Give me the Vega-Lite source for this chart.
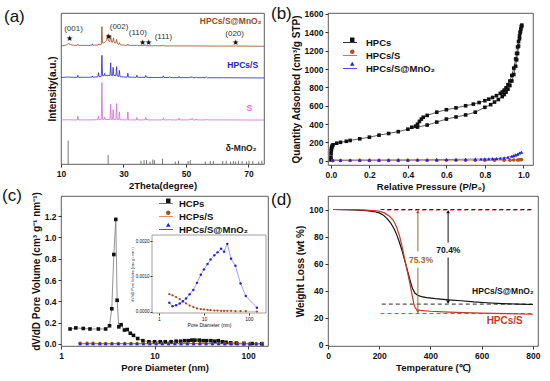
{
"$schema": "https://vega.github.io/schema/vega-lite/v6.json",
"background": "white",
"padding": {"left": 1, "top": 4, "right": 0, "bottom": 0},
"config": {
  "font": "Liberation Sans",
  "view": {"stroke": "#333333", "strokeWidth": 0.8},
  "axis": {"labelFont": "Liberation Sans", "labelFontWeight": "bold", "labelFontSize": 8.5, "labelColor": "#111111", "titleFont": "Liberation Sans", "titleFontWeight": "bold", "titleFontSize": 9.5, "titleColor": "#111111", "grid": false, "domain": false, "tickColor": "#333333", "tickSize": 3, "labelPadding": 2, "titlePadding": 3, "labelOverlap": false, "labelFlush": false},
  "axisY": {"titleFontSize": 10},
  "legend": {"labelFont": "Liberation Sans", "labelFontWeight": "bold", "labelFontSize": 9.5, "labelColor": "#111111", "padding": 0, "rowPadding": 1},
  "title": {"font": "Liberation Sans", "fontSize": 17, "fontWeight": "normal", "color": "#111111", "anchor": "start", "frame": "group", "offset": -13}
},
"datasets": {
  "xrd": [
    {"s":"HPCs/S@MnO₂","t":10,"v":78.2},{"s":"HPCs/S@MnO₂","t":11,"v":78.4},{"s":"HPCs/S@MnO₂","t":11.8,"v":79},{"s":"HPCs/S@MnO₂","t":12.4,"v":79.8},{"s":"HPCs/S@MnO₂","t":13,"v":79.2},{"s":"HPCs/S@MnO₂","t":14,"v":78.6},{"s":"HPCs/S@MnO₂","t":15.2,"v":78.6},{"s":"HPCs/S@MnO₂","t":15.4,"v":79.3},{"s":"HPCs/S@MnO₂","t":15.6,"v":78.6},{"s":"HPCs/S@MnO₂","t":17,"v":78.5},{"s":"HPCs/S@MnO₂","t":19.8,"v":78.6},{"s":"HPCs/S@MnO₂","t":20,"v":79.6},{"s":"HPCs/S@MnO₂","t":20.2,"v":78.7},{"s":"HPCs/S@MnO₂","t":21.5,"v":78.7},{"s":"HPCs/S@MnO₂","t":21.9,"v":78.8},{"s":"HPCs/S@MnO₂","t":22.1,"v":79.6},{"s":"HPCs/S@MnO₂","t":22.3,"v":78.9},{"s":"HPCs/S@MnO₂","t":22.9,"v":79.2},{"s":"HPCs/S@MnO₂","t":23.1,"v":91},{"s":"HPCs/S@MnO₂","t":23.3,"v":80.2},{"s":"HPCs/S@MnO₂","t":23.7,"v":80.2},{"s":"HPCs/S@MnO₂","t":24,"v":80.6},{"s":"HPCs/S@MnO₂","t":24.3,"v":81.2},{"s":"HPCs/S@MnO₂","t":24.6,"v":82},{"s":"HPCs/S@MnO₂","t":24.9,"v":85.5},{"s":"HPCs/S@MnO₂","t":25.2,"v":81.5},{"s":"HPCs/S@MnO₂","t":25.6,"v":81},{"s":"HPCs/S@MnO₂","t":25.9,"v":85},{"s":"HPCs/S@MnO₂","t":26.2,"v":80.6},{"s":"HPCs/S@MnO₂","t":26.5,"v":80.6},{"s":"HPCs/S@MnO₂","t":26.8,"v":83.5},{"s":"HPCs/S@MnO₂","t":27.1,"v":80.2},{"s":"HPCs/S@MnO₂","t":27.5,"v":80.1},{"s":"HPCs/S@MnO₂","t":27.8,"v":82.5},{"s":"HPCs/S@MnO₂","t":28.1,"v":79.6},{"s":"HPCs/S@MnO₂","t":28.5,"v":79.2},{"s":"HPCs/S@MnO₂","t":28.7,"v":80.4},{"s":"HPCs/S@MnO₂","t":29,"v":78.9},{"s":"HPCs/S@MnO₂","t":31.2,"v":78.6},{"s":"HPCs/S@MnO₂","t":31.4,"v":79.5},{"s":"HPCs/S@MnO₂","t":31.6,"v":78.6},{"s":"HPCs/S@MnO₂","t":34.2,"v":78.5},{"s":"HPCs/S@MnO₂","t":34.4,"v":78.9},{"s":"HPCs/S@MnO₂","t":34.6,"v":78.4},{"s":"HPCs/S@MnO₂","t":36.8,"v":78.4},{"s":"HPCs/S@MnO₂","t":37,"v":79},{"s":"HPCs/S@MnO₂","t":37.2,"v":78.3},{"s":"HPCs/S@MnO₂","t":42.6,"v":78.3},{"s":"HPCs/S@MnO₂","t":42.8,"v":78.9},{"s":"HPCs/S@MnO₂","t":43,"v":78.2},{"s":"HPCs/S@MnO₂","t":50,"v":78.2},{"s":"HPCs/S@MnO₂","t":60,"v":78.1},{"s":"HPCs/S@MnO₂","t":65.8,"v":78.1},{"s":"HPCs/S@MnO₂","t":66,"v":78.5},{"s":"HPCs/S@MnO₂","t":66.2,"v":78.1},{"s":"HPCs/S@MnO₂","t":75,"v":78},
    {"s":"HPCs/S","t":10,"v":57.3},{"s":"HPCs/S","t":12,"v":57.6},{"s":"HPCs/S","t":14,"v":57.4},{"s":"HPCs/S","t":15.2,"v":57.4},{"s":"HPCs/S","t":15.4,"v":58.8},{"s":"HPCs/S","t":15.6,"v":57.4},{"s":"HPCs/S","t":17.5,"v":57.4},{"s":"HPCs/S","t":19.8,"v":57.5},{"s":"HPCs/S","t":20,"v":58.4},{"s":"HPCs/S","t":20.2,"v":57.5},{"s":"HPCs/S","t":21.8,"v":57.7},{"s":"HPCs/S","t":22,"v":60.5},{"s":"HPCs/S","t":22.2,"v":57.8},{"s":"HPCs/S","t":22.9,"v":58},{"s":"HPCs/S","t":23.1,"v":72},{"s":"HPCs/S","t":23.3,"v":58.5},{"s":"HPCs/S","t":23.8,"v":58.5},{"s":"HPCs/S","t":24,"v":60},{"s":"HPCs/S","t":24.2,"v":58.5},{"s":"HPCs/S","t":25.7,"v":58.6},{"s":"HPCs/S","t":25.9,"v":67},{"s":"HPCs/S","t":26.1,"v":58.8},{"s":"HPCs/S","t":26.5,"v":58.6},{"s":"HPCs/S","t":26.7,"v":64},{"s":"HPCs/S","t":26.9,"v":58.6},{"s":"HPCs/S","t":27.6,"v":58.5},{"s":"HPCs/S","t":27.8,"v":64.5},{"s":"HPCs/S","t":28,"v":58.3},{"s":"HPCs/S","t":28.5,"v":58},{"s":"HPCs/S","t":28.7,"v":62},{"s":"HPCs/S","t":28.9,"v":57.8},{"s":"HPCs/S","t":31.2,"v":57.5},{"s":"HPCs/S","t":31.4,"v":60.2},{"s":"HPCs/S","t":31.6,"v":57.5},{"s":"HPCs/S","t":33,"v":57.5},{"s":"HPCs/S","t":34.1,"v":57.4},{"s":"HPCs/S","t":34.3,"v":58.8},{"s":"HPCs/S","t":34.5,"v":57.4},{"s":"HPCs/S","t":36.9,"v":57.4},{"s":"HPCs/S","t":37.1,"v":58.6},{"s":"HPCs/S","t":37.3,"v":57.4},{"s":"HPCs/S","t":37.5,"v":58},{"s":"HPCs/S","t":37.7,"v":57.3},{"s":"HPCs/S","t":42.6,"v":57.3},{"s":"HPCs/S","t":42.8,"v":58.4},{"s":"HPCs/S","t":43,"v":57.3},{"s":"HPCs/S","t":44.6,"v":57.3},{"s":"HPCs/S","t":44.8,"v":57.8},{"s":"HPCs/S","t":45,"v":57.2},{"s":"HPCs/S","t":47.6,"v":57.2},{"s":"HPCs/S","t":47.8,"v":58},{"s":"HPCs/S","t":48,"v":57.2},{"s":"HPCs/S","t":51.2,"v":57.2},{"s":"HPCs/S","t":51.4,"v":57.8},{"s":"HPCs/S","t":51.6,"v":57.2},{"s":"HPCs/S","t":52,"v":57.8},{"s":"HPCs/S","t":52.2,"v":57.2},{"s":"HPCs/S","t":53.1,"v":57.2},{"s":"HPCs/S","t":53.3,"v":57.7},{"s":"HPCs/S","t":53.5,"v":57.2},{"s":"HPCs/S","t":56.4,"v":57.2},{"s":"HPCs/S","t":56.6,"v":57.5},{"s":"HPCs/S","t":56.8,"v":57.1},{"s":"HPCs/S","t":62,"v":57.1},{"s":"HPCs/S","t":75,"v":57},
    {"s":"S","t":10,"v":29.2},{"s":"S","t":12,"v":29.3},{"s":"S","t":14,"v":29.2},{"s":"S","t":15.2,"v":29.2},{"s":"S","t":15.4,"v":31.8},{"s":"S","t":15.6,"v":29.2},{"s":"S","t":18,"v":29.2},{"s":"S","t":21.8,"v":29.3},{"s":"S","t":22,"v":31.8},{"s":"S","t":22.2,"v":29.3},{"s":"S","t":22.9,"v":29.5},{"s":"S","t":23.1,"v":54},{"s":"S","t":23.3,"v":29.6},{"s":"S","t":23.8,"v":29.5},{"s":"S","t":24,"v":31},{"s":"S","t":24.2,"v":29.5},{"s":"S","t":25.7,"v":29.5},{"s":"S","t":25.9,"v":39.5},{"s":"S","t":26.1,"v":29.5},{"s":"S","t":26.5,"v":29.5},{"s":"S","t":26.7,"v":36},{"s":"S","t":26.9,"v":29.5},{"s":"S","t":27.6,"v":29.5},{"s":"S","t":27.8,"v":40},{"s":"S","t":28,"v":29.4},{"s":"S","t":28.5,"v":29.4},{"s":"S","t":28.7,"v":34.5},{"s":"S","t":28.9,"v":29.3},{"s":"S","t":31.2,"v":29.2},{"s":"S","t":31.4,"v":34.5},{"s":"S","t":31.6,"v":29.2},{"s":"S","t":33,"v":29.2},{"s":"S","t":34.1,"v":29.2},{"s":"S","t":34.3,"v":30.8},{"s":"S","t":34.5,"v":29.2},{"s":"S","t":36.9,"v":29.2},{"s":"S","t":37.1,"v":30.8},{"s":"S","t":37.3,"v":29.2},{"s":"S","t":37.5,"v":30},{"s":"S","t":37.7,"v":29.2},{"s":"S","t":42.6,"v":29.2},{"s":"S","t":42.8,"v":30.6},{"s":"S","t":43,"v":29.2},{"s":"S","t":44.6,"v":29.2},{"s":"S","t":44.8,"v":29.8},{"s":"S","t":45,"v":29.2},{"s":"S","t":47.6,"v":29.2},{"s":"S","t":47.8,"v":30.4},{"s":"S","t":48,"v":29.2},{"s":"S","t":51.2,"v":29.2},{"s":"S","t":51.4,"v":30},{"s":"S","t":51.6,"v":29.2},{"s":"S","t":52,"v":30.2},{"s":"S","t":52.2,"v":29.2},{"s":"S","t":53.1,"v":29.2},{"s":"S","t":53.3,"v":29.9},{"s":"S","t":53.5,"v":29.2},{"s":"S","t":56.4,"v":29.2},{"s":"S","t":56.6,"v":29.7},{"s":"S","t":56.8,"v":29.2},{"s":"S","t":62,"v":29.2},{"s":"S","t":75,"v":29.1}
  ],
  "sticks": [
    {"t":12.3,"h":15.5},{"t":25.1,"h":6},{"t":35.6,"h":2.2},{"t":36.6,"h":2.6},{"t":37.4,"h":2.6},{"t":38.5,"h":1.6},{"t":39.4,"h":3},{"t":39.9,"h":2.5},{"t":42.5,"h":3.5},{"t":46.6,"h":1.6},{"t":47.6,"h":2.2},{"t":50.7,"h":2},{"t":51.4,"h":2.6},{"t":56.2,"h":1.6},{"t":57.8,"h":2},{"t":58.8,"h":2},{"t":61.8,"h":2},{"t":62.9,"h":2.2},{"t":64.3,"h":1.6},{"t":65.2,"h":2},{"t":65.9,"h":1.6},{"t":66.8,"h":2.2},{"t":68,"h":2},{"t":69.4,"h":1.6},{"t":70.2,"h":2.2},{"t":71.4,"h":2},{"t":73.3,"h":1.6},{"t":74.3,"h":2.2}
  ],
  "hkl": [
    {"t":14,"v":89.5,"label":"(001)"},{"t":28.6,"v":90.6,"label":"(002)"},{"t":34.6,"v":86.8,"label":"(110)"},{"t":42.8,"v":84.2,"label":"(111)"},{"t":65.6,"v":86,"label":"(020)"}
  ],
  "stars": [
    {"t":12.7,"v":82.6},{"t":25.2,"v":84},{"t":36.2,"v":80.3},{"t":38.1,"v":80.3},{"t":65.9,"v":80.2}
  ],
  "xrdlab": [
    {"s":"HPCs/S@MnO₂","t":74.2,"v":94.5},{"s":"HPCs/S","t":73.1,"v":65.3},{"s":"S","t":71.2,"v":36.8},{"s":"δ-MnO₂","t":72.6,"v":10.7}
  ],
  "iso": [
    {"s":"HPCs","o":1,"p":0.0002,"q":10},{"s":"HPCs","o":2,"p":0.0005,"q":40},{"s":"HPCs","o":3,"p":0.001,"q":80},{"s":"HPCs","o":4,"p":0.002,"q":112},{"s":"HPCs","o":5,"p":0.003,"q":132},{"s":"HPCs","o":6,"p":0.004,"q":146},{"s":"HPCs","o":7,"p":0.006,"q":157},{"s":"HPCs","o":8,"p":0.008,"q":166},{"s":"HPCs","o":9,"p":0.011,"q":175},{"s":"HPCs","o":10,"p":0.03,"q":192},{"s":"HPCs","o":11,"p":0.05,"q":202},{"s":"HPCs","o":12,"p":0.08,"q":213},{"s":"HPCs","o":13,"p":0.1,"q":222},{"s":"HPCs","o":14,"p":0.15,"q":240},{"s":"HPCs","o":15,"p":0.2,"q":258},{"s":"HPCs","o":16,"p":0.25,"q":280},{"s":"HPCs","o":17,"p":0.3,"q":298},{"s":"HPCs","o":18,"p":0.35,"q":318},{"s":"HPCs","o":19,"p":0.4,"q":345},{"s":"HPCs","o":20,"p":0.45,"q":368},{"s":"HPCs","o":21,"p":0.5,"q":390},{"s":"HPCs","o":22,"p":0.55,"q":422},{"s":"HPCs","o":23,"p":0.6,"q":455},{"s":"HPCs","o":24,"p":0.65,"q":478},{"s":"HPCs","o":25,"p":0.7,"q":500},{"s":"HPCs","o":26,"p":0.75,"q":530},{"s":"HPCs","o":27,"p":0.8,"q":583},{"s":"HPCs","o":28,"p":0.83,"q":612},{"s":"HPCs","o":29,"p":0.85,"q":640},{"s":"HPCs","o":30,"p":0.87,"q":668},{"s":"HPCs","o":31,"p":0.89,"q":700},{"s":"HPCs","o":32,"p":0.9,"q":722},{"s":"HPCs","o":33,"p":0.91,"q":748},{"s":"HPCs","o":34,"p":0.92,"q":780},{"s":"HPCs","o":35,"p":0.93,"q":820},{"s":"HPCs","o":36,"p":0.94,"q":870},{"s":"HPCs","o":37,"p":0.95,"q":940},{"s":"HPCs","o":38,"p":0.96,"q":1030},{"s":"HPCs","o":39,"p":0.965,"q":1100},{"s":"HPCs","o":40,"p":0.97,"q":1170},{"s":"HPCs","o":41,"p":0.975,"q":1250},{"s":"HPCs","o":42,"p":0.98,"q":1330},{"s":"HPCs","o":43,"p":0.985,"q":1410},{"s":"HPCs","o":44,"p":0.99,"q":1465},
    {"s":"HPCs","o":45,"p":0.992,"q":1478},{"s":"HPCs","o":46,"p":0.99,"q":1460},{"s":"HPCs","o":47,"p":0.987,"q":1435},{"s":"HPCs","o":48,"p":0.983,"q":1395},{"s":"HPCs","o":49,"p":0.98,"q":1360},{"s":"HPCs","o":50,"p":0.975,"q":1300},{"s":"HPCs","o":51,"p":0.97,"q":1240},{"s":"HPCs","o":52,"p":0.965,"q":1170},{"s":"HPCs","o":53,"p":0.96,"q":1110},{"s":"HPCs","o":54,"p":0.95,"q":1010},{"s":"HPCs","o":55,"p":0.94,"q":930},{"s":"HPCs","o":56,"p":0.93,"q":870},{"s":"HPCs","o":57,"p":0.92,"q":830},{"s":"HPCs","o":58,"p":0.91,"q":795},{"s":"HPCs","o":59,"p":0.9,"q":770},{"s":"HPCs","o":60,"p":0.89,"q":750},{"s":"HPCs","o":61,"p":0.88,"q":735},{"s":"HPCs","o":62,"p":0.86,"q":710},{"s":"HPCs","o":63,"p":0.84,"q":690},{"s":"HPCs","o":64,"p":0.82,"q":672},{"s":"HPCs","o":65,"p":0.8,"q":655},{"s":"HPCs","o":66,"p":0.77,"q":635},{"s":"HPCs","o":67,"p":0.74,"q":618},{"s":"HPCs","o":68,"p":0.7,"q":600},{"s":"HPCs","o":69,"p":0.65,"q":577},{"s":"HPCs","o":70,"p":0.6,"q":557},{"s":"HPCs","o":71,"p":0.55,"q":530},{"s":"HPCs","o":72,"p":0.5,"q":495},{"s":"HPCs","o":73,"p":0.48,"q":475},{"s":"HPCs","o":74,"p":0.47,"q":455},{"s":"HPCs","o":75,"p":0.46,"q":430},{"s":"HPCs","o":76,"p":0.45,"q":400},{"s":"HPCs","o":77,"p":0.44,"q":378},{"s":"HPCs","o":78,"p":0.42,"q":366},
    {"s":"HPCs/S","o":1,"p":0.01,"q":3},{"s":"HPCs/S","o":2,"p":0.05,"q":4},{"s":"HPCs/S","o":3,"p":0.1,"q":4},{"s":"HPCs/S","o":4,"p":0.15,"q":5},{"s":"HPCs/S","o":5,"p":0.2,"q":5},{"s":"HPCs/S","o":6,"p":0.25,"q":5},{"s":"HPCs/S","o":7,"p":0.3,"q":5},{"s":"HPCs/S","o":8,"p":0.35,"q":5},{"s":"HPCs/S","o":9,"p":0.4,"q":5},{"s":"HPCs/S","o":10,"p":0.45,"q":6},{"s":"HPCs/S","o":11,"p":0.5,"q":6},{"s":"HPCs/S","o":12,"p":0.55,"q":6},{"s":"HPCs/S","o":13,"p":0.6,"q":6},{"s":"HPCs/S","o":14,"p":0.65,"q":6},{"s":"HPCs/S","o":15,"p":0.7,"q":6},{"s":"HPCs/S","o":16,"p":0.75,"q":7},{"s":"HPCs/S","o":17,"p":0.8,"q":7},{"s":"HPCs/S","o":18,"p":0.85,"q":7},{"s":"HPCs/S","o":19,"p":0.9,"q":8},{"s":"HPCs/S","o":20,"p":0.93,"q":8},{"s":"HPCs/S","o":21,"p":0.95,"q":9},{"s":"HPCs/S","o":22,"p":0.97,"q":10},{"s":"HPCs/S","o":23,"p":0.98,"q":11},{"s":"HPCs/S","o":24,"p":0.99,"q":13},
    {"s":"HPCs/S@MnO₂","o":1,"p":0.01,"q":10},{"s":"HPCs/S@MnO₂","o":2,"p":0.05,"q":8},{"s":"HPCs/S@MnO₂","o":3,"p":0.1,"q":9},{"s":"HPCs/S@MnO₂","o":4,"p":0.15,"q":10},{"s":"HPCs/S@MnO₂","o":5,"p":0.2,"q":9},{"s":"HPCs/S@MnO₂","o":6,"p":0.25,"q":10},{"s":"HPCs/S@MnO₂","o":7,"p":0.3,"q":10},{"s":"HPCs/S@MnO₂","o":8,"p":0.35,"q":11},{"s":"HPCs/S@MnO₂","o":9,"p":0.4,"q":11},{"s":"HPCs/S@MnO₂","o":10,"p":0.45,"q":12},{"s":"HPCs/S@MnO₂","o":11,"p":0.5,"q":12},{"s":"HPCs/S@MnO₂","o":12,"p":0.55,"q":13},{"s":"HPCs/S@MnO₂","o":13,"p":0.6,"q":15},{"s":"HPCs/S@MnO₂","o":14,"p":0.65,"q":16},{"s":"HPCs/S@MnO₂","o":15,"p":0.7,"q":18},{"s":"HPCs/S@MnO₂","o":16,"p":0.75,"q":19},{"s":"HPCs/S@MnO₂","o":17,"p":0.78,"q":20},{"s":"HPCs/S@MnO₂","o":18,"p":0.8,"q":22},{"s":"HPCs/S@MnO₂","o":19,"p":0.82,"q":22},{"s":"HPCs/S@MnO₂","o":20,"p":0.84,"q":24},{"s":"HPCs/S@MnO₂","o":21,"p":0.86,"q":26},{"s":"HPCs/S@MnO₂","o":22,"p":0.88,"q":28},{"s":"HPCs/S@MnO₂","o":23,"p":0.9,"q":32},{"s":"HPCs/S@MnO₂","o":24,"p":0.92,"q":40},{"s":"HPCs/S@MnO₂","o":25,"p":0.94,"q":50},{"s":"HPCs/S@MnO₂","o":26,"p":0.95,"q":57},{"s":"HPCs/S@MnO₂","o":27,"p":0.96,"q":65},{"s":"HPCs/S@MnO₂","o":28,"p":0.97,"q":74},{"s":"HPCs/S@MnO₂","o":29,"p":0.98,"q":85},{"s":"HPCs/S@MnO₂","o":30,"p":0.99,"q":95}
  ],
  "pore": [
    {"s":"HCPs","d":1.25,"v":0.14},{"s":"HCPs","d":1.44,"v":0.15},{"s":"HCPs","d":1.73,"v":0.145},{"s":"HCPs","d":2.04,"v":0.14},{"s":"HCPs","d":2.51,"v":0.14},{"s":"HCPs","d":3.0,"v":0.14},{"s":"HCPs","d":3.3,"v":0.17},{"s":"HCPs","d":3.49,"v":0.33},{"s":"HCPs","d":3.67,"v":0.84},{"s":"HCPs","d":3.85,"v":1.17},{"s":"HCPs","d":3.98,"v":0.41},{"s":"HCPs","d":4.15,"v":0.16},{"s":"HCPs","d":4.39,"v":0.18},{"s":"HCPs","d":4.77,"v":0.13},{"s":"HCPs","d":5.1,"v":0.135},{"s":"HCPs","d":5.5,"v":0.1},{"s":"HCPs","d":5.95,"v":0.08},{"s":"HCPs","d":6.6,"v":0.05},{"s":"HCPs","d":7.5,"v":0.03},{"s":"HCPs","d":8.7,"v":0.02},{"s":"HCPs","d":10,"v":0.02},{"s":"HCPs","d":11.5,"v":0.02},{"s":"HCPs","d":13,"v":0.02},{"s":"HCPs","d":15,"v":0.02},{"s":"HCPs","d":17,"v":0.025},{"s":"HCPs","d":19,"v":0.025},{"s":"HCPs","d":21,"v":0.03},{"s":"HCPs","d":23,"v":0.03},{"s":"HCPs","d":25,"v":0.035},{"s":"HCPs","d":27,"v":0.035},{"s":"HCPs","d":30,"v":0.035},{"s":"HCPs","d":33,"v":0.03},{"s":"HCPs","d":36,"v":0.03},{"s":"HCPs","d":40,"v":0.03},{"s":"HCPs","d":44,"v":0.025},{"s":"HCPs","d":48,"v":0.03},{"s":"HCPs","d":53,"v":0.02},{"s":"HCPs","d":58,"v":0.015},{"s":"HCPs","d":65,"v":0.01},{"s":"HCPs","d":75,"v":0.008},{"s":"HCPs","d":90,"v":0.005},{"s":"HCPs","d":110,"v":0.003},{"s":"HCPs","d":140,"v":0.002},
    {"s":"HCPs/S","d":1.6,"v":0.005},{"s":"HCPs/S","d":1.9,"v":0.005},{"s":"HCPs/S","d":2.2,"v":0.005},{"s":"HCPs/S","d":2.6,"v":0.004},{"s":"HCPs/S","d":3.0,"v":0.004},{"s":"HCPs/S","d":3.5,"v":0.004},{"s":"HCPs/S","d":4.1,"v":0.004},{"s":"HCPs/S","d":4.8,"v":0.003},{"s":"HCPs/S","d":5.6,"v":0.003},{"s":"HCPs/S","d":6.5,"v":0.003},{"s":"HCPs/S","d":7.6,"v":0.003},{"s":"HCPs/S","d":8.9,"v":0.003},{"s":"HCPs/S","d":10.4,"v":0.003},{"s":"HCPs/S","d":12.1,"v":0.003},{"s":"HCPs/S","d":14.1,"v":0.003},{"s":"HCPs/S","d":16.5,"v":0.003},{"s":"HCPs/S","d":19.2,"v":0.003},{"s":"HCPs/S","d":22.4,"v":0.003},{"s":"HCPs/S","d":26.1,"v":0.003},{"s":"HCPs/S","d":30.5,"v":0.003},{"s":"HCPs/S","d":35.5,"v":0.003},{"s":"HCPs/S","d":41.5,"v":0.003},{"s":"HCPs/S","d":48.4,"v":0.003},{"s":"HCPs/S","d":56.4,"v":0.002},{"s":"HCPs/S","d":65.8,"v":0.002},{"s":"HCPs/S","d":76.8,"v":0.002},{"s":"HCPs/S","d":89.5,"v":0.002},{"s":"HCPs/S","d":104,"v":0.002},{"s":"HCPs/S","d":122,"v":0.002},{"s":"HCPs/S","d":142,"v":0.002},
    {"s":"HPCs/S@MnO₂","d":1.6,"v":0.001},{"s":"HPCs/S@MnO₂","d":1.9,"v":0.001},{"s":"HPCs/S@MnO₂","d":2.2,"v":0.001},{"s":"HPCs/S@MnO₂","d":2.6,"v":0.001},{"s":"HPCs/S@MnO₂","d":3.0,"v":0.001},{"s":"HPCs/S@MnO₂","d":3.5,"v":0.001},{"s":"HPCs/S@MnO₂","d":4.1,"v":0.001},{"s":"HPCs/S@MnO₂","d":4.8,"v":0.001},{"s":"HPCs/S@MnO₂","d":5.6,"v":0.001},{"s":"HPCs/S@MnO₂","d":6.5,"v":0.001},{"s":"HPCs/S@MnO₂","d":7.6,"v":0.001},{"s":"HPCs/S@MnO₂","d":8.9,"v":0.001},{"s":"HPCs/S@MnO₂","d":10.4,"v":0.001},{"s":"HPCs/S@MnO₂","d":12.1,"v":0.001},{"s":"HPCs/S@MnO₂","d":14.1,"v":0.002},{"s":"HPCs/S@MnO₂","d":16.5,"v":0.002},{"s":"HPCs/S@MnO₂","d":19.2,"v":0.002},{"s":"HPCs/S@MnO₂","d":22.4,"v":0.002},{"s":"HPCs/S@MnO₂","d":26.1,"v":0.002},{"s":"HPCs/S@MnO₂","d":30.5,"v":0.002},{"s":"HPCs/S@MnO₂","d":35.5,"v":0.002},{"s":"HPCs/S@MnO₂","d":41.5,"v":0.002},{"s":"HPCs/S@MnO₂","d":48.4,"v":0.001},{"s":"HPCs/S@MnO₂","d":56.4,"v":0.001},{"s":"HPCs/S@MnO₂","d":65.8,"v":0.001},{"s":"HPCs/S@MnO₂","d":76.8,"v":0.001},{"s":"HPCs/S@MnO₂","d":89.5,"v":0.0005},{"s":"HPCs/S@MnO₂","d":104,"v":0.0005},{"s":"HPCs/S@MnO₂","d":122,"v":0.0005},{"s":"HPCs/S@MnO₂","d":142,"v":0.0005}
  ],
  "inset": [
    {"s":"b","d":1.7,"v":0.00026},{"s":"b","d":2.0,"v":0.00016},{"s":"b","d":2.4,"v":0.00019},{"s":"b","d":2.9,"v":0.00024},{"s":"b","d":3.4,"v":0.0003},{"s":"b","d":4.0,"v":0.00038},{"s":"b","d":4.8,"v":0.0005},{"s":"b","d":5.8,"v":0.00062},{"s":"b","d":7.0,"v":0.00082},{"s":"b","d":8.5,"v":0.00105},{"s":"b","d":10,"v":0.0012},{"s":"b","d":12,"v":0.00135},{"s":"b","d":14,"v":0.00148},{"s":"b","d":17,"v":0.0016},{"s":"b","d":20,"v":0.00168},{"s":"b","d":24,"v":0.00178},{"s":"b","d":28,"v":0.0017},{"s":"b","d":33,"v":0.00192},{"s":"b","d":40,"v":0.0015},{"s":"b","d":50,"v":0.0013},{"s":"b","d":65,"v":0.0008},{"s":"b","d":85,"v":0.00045},{"s":"b","d":150,"v":0.00012},
    {"s":"r","d":1.7,"v":0.0005},{"s":"r","d":2.0,"v":0.00047},{"s":"r","d":2.4,"v":0.00042},{"s":"r","d":2.9,"v":0.00036},{"s":"r","d":3.4,"v":0.0003},{"s":"r","d":4.0,"v":0.00024},{"s":"r","d":4.8,"v":0.00018},{"s":"r","d":5.8,"v":0.00014},{"s":"r","d":7.0,"v":0.0001},{"s":"r","d":8.5,"v":0.00008},{"s":"r","d":10,"v":0.00007},{"s":"r","d":12,"v":0.00006},{"s":"r","d":14,"v":0.00005},{"s":"r","d":17,"v":0.00004},{"s":"r","d":20,"v":0.00004},{"s":"r","d":24,"v":0.00003},{"s":"r","d":28,"v":0.00003},{"s":"r","d":33,"v":0.00003},{"s":"r","d":40,"v":0.00003},{"s":"r","d":50,"v":0.00002},{"s":"r","d":65,"v":0.00002},{"s":"r","d":85,"v":0.00002},{"s":"r","d":150,"v":0.00001}
  ],
  "tga": [
    {"c":"k","t":20,"w":100},{"c":"k","t":100,"w":99.7},{"c":"k","t":150,"w":99.2},{"c":"k","t":180,"w":98.5},{"c":"k","t":200,"w":97.5},{"c":"k","t":215,"w":96},{"c":"k","t":230,"w":93.5},{"c":"k","t":245,"w":90},{"c":"k","t":260,"w":85},{"c":"k","t":270,"w":80.5},{"c":"k","t":280,"w":75},{"c":"k","t":290,"w":69},{"c":"k","t":300,"w":62},{"c":"k","t":310,"w":55},{"c":"k","t":320,"w":48},{"c":"k","t":330,"w":41.5},{"c":"k","t":340,"w":38},{"c":"k","t":350,"w":36.5},{"c":"k","t":365,"w":35.5},{"c":"k","t":385,"w":34.8},{"c":"k","t":420,"w":34},{"c":"k","t":470,"w":33.2},{"c":"k","t":520,"w":32.5},{"c":"k","t":570,"w":31.6},{"c":"k","t":620,"w":31},{"c":"k","t":680,"w":30.4},{"c":"k","t":740,"w":30},{"c":"k","t":800,"w":29.7},
    {"c":"r","t":20,"w":100},{"c":"r","t":100,"w":99.9},{"c":"r","t":150,"w":99.6},{"c":"r","t":200,"w":98.8},{"c":"r","t":220,"w":97.5},{"c":"r","t":240,"w":95},{"c":"r","t":255,"w":92},{"c":"r","t":268,"w":87},{"c":"r","t":280,"w":80},{"c":"r","t":290,"w":72},{"c":"r","t":300,"w":63},{"c":"r","t":310,"w":54},{"c":"r","t":320,"w":45},{"c":"r","t":328,"w":37},{"c":"r","t":335,"w":30.5},{"c":"r","t":341,"w":27},{"c":"r","t":348,"w":25.8},{"c":"r","t":360,"w":25.3},{"c":"r","t":400,"w":24.7},{"c":"r","t":450,"w":24.2},{"c":"r","t":500,"w":23.9},{"c":"r","t":600,"w":23.3},{"c":"r","t":700,"w":22.9},{"c":"r","t":800,"w":22.5}
  ],
  "dash": [
    {"c":"r","x1":230,"x2":800,"y":99.6},{"c":"k","x1":205,"x2":800,"y":100},{"c":"k","x1":210,"x2":800,"y":30},{"c":"r","x1":205,"x2":800,"y":23}
  ],
  "arrows": [
    {"c":"br","t":351,"y1":23.5,"y2":57},{"c":"br","t":351,"y1":69,"y2":98},{"c":"k","t":469,"y1":31,"y2":64.5},{"c":"k","t":469,"y1":75.5,"y2":98}
  ],
  "heads": [
    {"c":"br","t":351,"w":98.5,"dir":"up"},{"c":"br","t":351,"w":24.5,"dir":"down"},{"c":"k","t":469,"w":98.5,"dir":"up"},{"c":"k","t":469,"w":31.5,"dir":"down"}
  ],
  "dtext": [
    {"c":"br","t":363,"w":63,"label":"75.3%"},{"c":"k","t":470,"w":70,"label":"70.4%"},{"c":"k","t":683,"w":40,"label":"HPCs/S@MnO₂"}
  ],
  "dtext2": [
    {"c":"r","t":690,"w":17.5,"label":"HPCs/S"}
  ],
  "insetframe": [{"a": 1}]
},
"columns": 2,
"spacing": {"row": -6, "column": 1},
"concat": [
  {
    "width": 203, "height": 151,
    "title": {"text": "(a)", "dx": -57},
    "layer": [
      {"data": {"name": "xrd"}, "mark": {"type": "line", "strokeWidth": 0.8},
       "encoding": {
         "x": {"field": "t", "type": "quantitative", "scale": {"domain": [10, 75], "nice": false}, "axis": {"values": [10,20,30,40,50,60,70], "title": "2Theta(degree)", "labelOverlap": false}},
         "y": {"field": "v", "type": "quantitative", "scale": {"domain": [0, 100], "nice": false}, "axis": {"labels": false, "ticks": false, "title": "Intensity(a.u.)", "titlePadding": 4}},
         "color": {"field": "s", "type": "nominal", "scale": {"domain": ["HPCs/S@MnO₂","HPCs/S","S","δ-MnO₂"], "range": ["#9C4A20","#2424CC","#D46AD8","#222222"]}, "legend": null}
       }},
      {"data": {"name": "sticks"}, "mark": {"type": "rule", "strokeWidth": 0.8, "color": "#555555"},
       "encoding": {"x": {"field": "t", "type": "quantitative"}, "y": {"field": "h", "type": "quantitative"}, "y2": {"datum": 0}}},
      {"data": {"name": "hkl"}, "mark": {"type": "text", "fontSize": 8, "color": "#333333"},
       "encoding": {"x": {"field": "t", "type": "quantitative"}, "y": {"field": "v", "type": "quantitative"}, "text": {"field": "label", "type": "nominal"}}},
      {"data": {"name": "stars"}, "mark": {"type": "text", "fontSize": 8, "color": "#111111", "text": "★"},
       "encoding": {"x": {"field": "t", "type": "quantitative"}, "y": {"field": "v", "type": "quantitative"}}},
      {"data": {"name": "xrdlab"}, "mark": {"type": "text", "fontSize": 8.5, "fontWeight": "bold", "align": "right"},
       "encoding": {"x": {"field": "t", "type": "quantitative"}, "y": {"field": "v", "type": "quantitative"}, "text": {"field": "s", "type": "nominal"},
         "color": {"field": "s", "type": "nominal", "legend": null}}}
    ]
  },
  {
    "width": 205, "height": 152,
    "title": {"text": "(b)", "dx": -57},
    "layer": [
      {"data": {"name": "iso"}, "mark": {"type": "line", "strokeWidth": 0.8},
       "encoding": {
         "x": {"field": "p", "type": "quantitative", "scale": {"domain": [-0.015, 1.05], "nice": false}, "axis": {"values": [0,0.2,0.4,0.6,0.8,1], "format": ".1f", "title": "Relative Pressure (P/P₀)", "labelOverlap": false}},
         "y": {"field": "q", "type": "quantitative", "scale": {"domain": [-45, 1610], "nice": false}, "axis": {"values": [0,200,400,600,800,1000,1200,1400,1600], "format": "d", "title": "Quantity Adsorbed (cm³/g STP)", "labelOverlap": false}},
         "stroke": {"field": "s", "type": "nominal", "scale": {"domain": ["HPCs","HPCs/S","HPCs/S@MnO₂"], "range": ["#333333","#C87A50","#5050F0"]},
           "legend": {"orient": "none", "legendX": 14.5, "legendY": 22, "title": null, "symbolType": "stroke", "symbolSize": 196, "symbolStrokeWidth": 1, "labelOffset": 8.5}},
         "order": {"field": "o", "type": "quantitative"}
       }},
      {"data": {"name": "iso"}, "mark": {"type": "point", "filled": true, "size": 13, "opacity": 1},
       "encoding": {
         "x": {"field": "p", "type": "quantitative", "axis": {"values": [0,0.2,0.4,0.6,0.8,1], "format": ".1f", "title": "Relative Pressure (P/P₀)", "labelOverlap": false}},
         "y": {"field": "q", "type": "quantitative", "axis": {"values": [0,200,400,600,800,1000,1200,1400,1600], "format": "d", "title": "Quantity Adsorbed (cm³/g STP)", "labelOverlap": false}},
         "fill": {"field": "s", "type": "nominal", "scale": {"range": ["#111111","#B0501A","#2020E8"]},
           "legend": {"orient": "none", "legendX": 19.5, "legendY": 22, "title": null, "symbolSize": 20, "symbolStrokeWidth": 0, "labelExpr": "' '", "labelOffset": 0}},
         "shape": {"field": "s", "type": "nominal", "scale": {"range": ["square","circle","triangle-up"]},
           "legend": {"orient": "none", "legendX": 19.5, "legendY": 22, "title": null, "symbolSize": 20, "symbolStrokeWidth": 0, "labelExpr": "' '", "labelOffset": 0}}
       }}
    ]
  },
  {
    "width": 207, "height": 150,
    "title": {"text": "(c)", "dx": -59},
    "layer": [
      {"layer": [
        {"data": {"name": "pore"}, "mark": {"type": "line", "strokeWidth": 0.8},
         "encoding": {
           "x": {"field": "d", "type": "quantitative", "scale": {"type": "log", "domain": [1, 163], "nice": false}, "axis": {"values": [1,10,100], "format": "d", "title": "Pore Diameter (nm)", "labelOverlap": false}},
           "y": {"field": "v", "type": "quantitative", "scale": {"domain": [-0.02, 1.39], "nice": false}, "axis": {"values": [0,0.2,0.4,0.6,0.8,1,1.2], "format": ".1f", "title": "dV/dD Pore Volume (cm³ g⁻¹ nm⁻¹)", "labelOverlap": false}},
           "stroke": {"field": "s", "type": "nominal", "scale": {"domain": ["HCPs","HCPs/S","HPCs/S@MnO₂"], "range": ["#777777","#E09070","#5050F0"]},
             "legend": {"orient": "none", "legendX": 97.5, "legendY": 0, "title": null, "symbolType": "stroke", "symbolSize": 196, "symbolStrokeWidth": 1, "labelOffset": 5.5}}
         }},
        {"data": {"name": "pore"}, "mark": {"type": "point", "filled": true, "size": 13, "opacity": 1},
         "encoding": {
           "x": {"field": "d", "type": "quantitative", "axis": {"values": [1,10,100], "format": "d", "title": "Pore Diameter (nm)", "labelOverlap": false}},
           "y": {"field": "v", "type": "quantitative", "axis": {"values": [0,0.2,0.4,0.6,0.8,1,1.2], "format": ".1f", "title": "dV/dD Pore Volume (cm³ g⁻¹ nm⁻¹)", "labelOverlap": false}},
           "fill": {"field": "s", "type": "nominal", "scale": {"range": ["#111111","#A0501A","#2020E8"]},
             "legend": {"orient": "none", "legendX": 102.5, "legendY": 0, "title": null, "symbolSize": 20, "symbolStrokeWidth": 0, "labelExpr": "' '", "labelOffset": 0}},
           "shape": {"field": "s", "type": "nominal", "scale": {"range": ["square","circle","triangle-up"]},
             "legend": {"orient": "none", "legendX": 102.5, "legendY": 0, "title": null, "symbolSize": 20, "symbolStrokeWidth": 0, "labelExpr": "' '", "labelOffset": 0}}
         }}
      ]},
      {"layer": [
        {"data": {"name": "insetframe"}, "mark": {"type": "rect", "fill": "white", "stroke": "#888888", "strokeWidth": 0.8},
         "encoding": {
           "x": {"datum": 0.7, "type": "quantitative", "scale": {"type": "log", "domain": [0.7, 239], "range": [91, 205], "nice": false},
             "axis": {"orient": "bottom", "offset": -33, "values": [1,10,100], "format": "d", "title": "Pore Diameter (nm)", "labelFontSize": 5, "titleFontSize": 5, "labelFontWeight": "normal", "titleFontWeight": "normal", "tickSize": 2, "labelPadding": 1, "titlePadding": 1, "zindex": 1, "labelOverlap": false}},
           "x2": {"datum": 239},
           "y": {"datum": -0.00003, "type": "quantitative", "scale": {"domain": [-0.00003, 0.00217], "range": [117, 39], "nice": false},
             "axis": {"orient": "left", "offset": -91, "values": [0,0.0005,0.001,0.0015,0.002], "format": ".4f", "title": "dV/dD Pore Volume (cm³ g⁻¹ nm⁻¹)", "labelFontSize": 4.5, "titleFontSize": 3.6, "labelFontWeight": "normal", "titleFontWeight": "normal", "tickSize": 2, "labelPadding": 1, "titlePadding": 1, "zindex": 1, "labelOverlap": false}},
           "y2": {"datum": 0.00217}
         }},
        {"data": {"name": "inset"}, "transform": [{"filter": "datum.s == 'r'"}], "mark": {"type": "line", "strokeWidth": 0.6, "color": "#E09070", "point": {"filled": true, "size": 5, "color": "#A0501A"}},
         "encoding": {"x": {"field": "d", "type": "quantitative"}, "y": {"field": "v", "type": "quantitative"}}},
        {"data": {"name": "inset"}, "transform": [{"filter": "datum.s == 'b'"}], "mark": {"type": "line", "strokeWidth": 0.6, "color": "#6060F0", "point": {"filled": true, "size": 6, "color": "#2020E8"}},
         "encoding": {"x": {"field": "d", "type": "quantitative"}, "y": {"field": "v", "type": "quantitative"}}}
      ]}
    ],
    "resolve": {"scale": {"x": "independent", "y": "independent"}}
  },
  {
    "width": 210, "height": 150,
    "title": {"text": "(d)", "dx": -57},
    "layer": [
      {"data": {"name": "dash"}, "mark": {"type": "rule", "strokeWidth": 0.9, "strokeDash": [4, 3]},
       "encoding": {
         "x": {"field": "x1", "type": "quantitative", "scale": {"domain": [0, 820], "nice": false}, "axis": {"values": [0,200,400,600,800], "title": "Temperature (℃)", "labelOverlap": false}},
         "x2": {"field": "x2"},
         "y": {"field": "y", "type": "quantitative", "scale": {"domain": [-1, 110], "nice": false}, "axis": {"values": [0,20,40,60,80,100], "title": "Weight Loss (wt %)", "labelOverlap": false}},
         "color": {"field": "c", "type": "nominal", "scale": {"domain": ["k","r","br"], "range": ["#111111","#C8372A","#A0682A"]}, "legend": null}
       }},
      {"data": {"name": "tga"}, "mark": {"type": "line", "strokeWidth": 1.2},
       "encoding": {"x": {"field": "t", "type": "quantitative", "axis": {"values": [0,200,400,600,800], "title": "Temperature (℃)", "labelOverlap": false}}, "y": {"field": "w", "type": "quantitative", "axis": {"values": [0,20,40,60,80,100], "title": "Weight Loss (wt %)", "labelOverlap": false}}, "color": {"field": "c", "type": "nominal", "legend": null}}},
      {"data": {"name": "arrows"}, "mark": {"type": "rule", "strokeWidth": 1},
       "encoding": {"x": {"field": "t", "type": "quantitative", "axis": {"values": [0,200,400,600,800], "title": "Temperature (℃)", "labelOverlap": false}}, "y": {"field": "y1", "type": "quantitative", "axis": {"values": [0,20,40,60,80,100], "title": "Weight Loss (wt %)", "labelOverlap": false}}, "y2": {"field": "y2"}, "color": {"field": "c", "type": "nominal", "legend": null}}},
      {"data": {"name": "heads"}, "mark": {"type": "point", "filled": true, "size": 14, "opacity": 1},
       "encoding": {"x": {"field": "t", "type": "quantitative", "axis": {"values": [0,200,400,600,800], "title": "Temperature (℃)", "labelOverlap": false}}, "y": {"field": "w", "type": "quantitative", "axis": {"values": [0,20,40,60,80,100], "title": "Weight Loss (wt %)", "labelOverlap": false}}, "color": {"field": "c", "type": "nominal", "legend": null},
         "shape": {"field": "dir", "type": "nominal", "scale": {"domain": ["up","down"], "range": ["triangle-up","triangle-down"]}, "legend": null}}},
      {"data": {"name": "dtext"}, "mark": {"type": "text", "fontSize": 8.5, "fontWeight": "bold"},
       "encoding": {"x": {"field": "t", "type": "quantitative", "axis": {"values": [0,200,400,600,800], "title": "Temperature (℃)", "labelOverlap": false}}, "y": {"field": "w", "type": "quantitative", "axis": {"values": [0,20,40,60,80,100], "title": "Weight Loss (wt %)", "labelOverlap": false}}, "text": {"field": "label", "type": "nominal"}, "color": {"field": "c", "type": "nominal", "legend": null}}},
      {"data": {"name": "dtext2"}, "mark": {"type": "text", "fontSize": 10, "fontWeight": "bold"},
       "encoding": {"x": {"field": "t", "type": "quantitative", "axis": {"values": [0,200,400,600,800], "title": "Temperature (℃)", "labelOverlap": false}}, "y": {"field": "w", "type": "quantitative", "axis": {"values": [0,20,40,60,80,100], "title": "Weight Loss (wt %)", "labelOverlap": false}}, "text": {"field": "label", "type": "nominal"}, "color": {"field": "c", "type": "nominal", "legend": null}}}
    ]
  }
],
"resolve": {"scale": {"color": "independent", "fill": "independent", "stroke": "independent", "shape": "independent"}, "legend": {"color": "independent", "fill": "independent", "stroke": "independent", "shape": "independent"}}
}
